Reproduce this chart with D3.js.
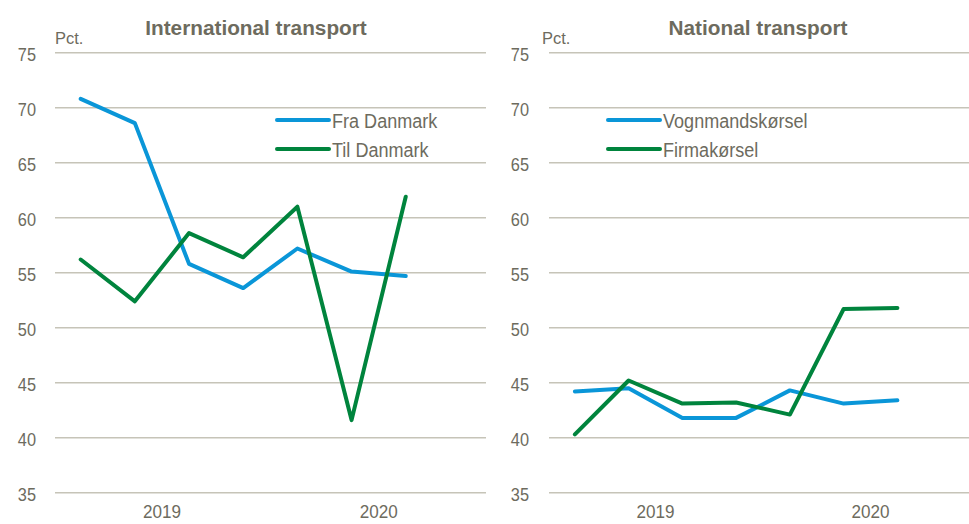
<!DOCTYPE html>
<html>
<head>
<meta charset="utf-8">
<script src="https://cdn.jsdelivr.net/npm/d3@7"></script>
<style>
  body { margin: 0; background: #fff; }
  svg text { font-family: "Liberation Sans", Arial, sans-serif; fill: #6d6b5e; }
</style>
</head>
<body>
<svg id="chart" width="969" height="524"></svg>
<script>
const quarters = ["2019K1", "2019K2", "2019K3", "2019K4", "2020K1", "2020K2", "2020K3", "2020K4"];
const years = ["2019", "2020"];
const yTicks = [35, 40, 45, 50, 55, 60, 65, 70, 75];

const fraDanmark = [70.8, 68.6, 55.8, 53.6, 57.2, 55.1, 54.7];
const tilDanmark = [56.2, 52.4, 58.6, 56.4, 61.0, 41.6, 61.9];
const vognmand = [44.2, 44.5, 41.8, 41.8, 44.3, 43.1, 43.4];
const firma = [40.3, 45.2, 43.1, 43.2, 42.1, 51.7, 51.8];

const blue = "#0a96d8";
const green = "#00843d";
const gridColor = "#c6c4b8";
const narrow = 0.86; // no Arial Narrow here, so squeeze the text sideways

const svg = d3.select("#chart");

const y = d3.scaleLinear().domain([35, 75]).range([492.7, 52.7]);

// place text with a horizontal squeeze around its anchor point
function squeeze(sel, fx, fy, k) {
  sel.attr("transform", (d, i) => {
    const tx = typeof fx === "function" ? fx(d, i) : fx;
    const ty = typeof fy === "function" ? fy(d, i) : fy;
    return `translate(${tx},${ty}) scale(${k},1)`;
  });
}

const panels = [
  {
    title: "International transport", titleX: 256,
    x0: 53.6, x1: 487, gridX0: 55, gridX1: 486, labelX: 36, pctX: 55,
    legendX: 277,
    series: [
      {name: "Fra Danmark", values: fraDanmark, color: blue},
      {name: "Til Danmark", values: tilDanmark, color: green}
    ]
  },
  {
    title: "National transport", titleX: 758,
    x0: 548, x1: 978, gridX0: 549, gridX1: 969, labelX: 529, pctX: 542,
    legendX: 608,
    series: [
      {name: "Vognmandskørsel", values: vognmand, color: blue},
      {name: "Firmakørsel", values: firma, color: green}
    ]
  }
];

panels.forEach(p => {
  const g = svg.append("g");
  const x = d3.scaleBand().domain(quarters).range([p.x0, p.x1]).padding(0);

  // gridlines
  g.selectAll(".grid")
    .data(yTicks)
    .enter()
    .append("line")
    .attr("x1", p.gridX0)
    .attr("x2", p.gridX1)
    .attr("y1", d => y(d))
    .attr("y2", d => y(d))
    .attr("stroke", gridColor)
    .attr("stroke-width", 1.5);

  // y tick labels
  g.selectAll(".ylab")
    .data(yTicks)
    .enter()
    .append("text")
    .attr("dy", "0.36em")
    .attr("text-anchor", "end")
    .style("font-size", "19px")
    .text(d => d)
    .call(squeeze, p.labelX, d => y(d) + 1, narrow);

  g.append("text")
    .style("font-size", "17px")
    .text("Pct.")
    .call(squeeze, p.pctX, 43.5, 0.97);

  g.append("text")
    .attr("text-anchor", "middle")
    .style("font-size", "21px")
    .style("font-weight", "bold")
    .text(p.title)
    .call(squeeze, p.titleX, 35, 0.99);

  // year labels centered over four quarters
  g.selectAll(".year")
    .data(years)
    .enter()
    .append("text")
    .attr("text-anchor", "middle")
    .style("font-size", "19px")
    .text(d => d)
    .call(squeeze, d => {
      const qs = quarters.filter(q => q.startsWith(d));
      return (x(qs[0]) + x(qs[qs.length - 1]) + x.bandwidth()) / 2;
    }, 518, 0.9);

  const line = d3.line()
    .x((d, i) => x(quarters[i]) + x.bandwidth() / 2)
    .y(d => y(d));

  p.series.forEach((s, k) => {
    g.append("path")
      .datum(s.values)
      .attr("fill", "none")
      .attr("stroke", s.color)
      .attr("stroke-width", 4)
      .attr("stroke-linecap", "round")
      .attr("stroke-linejoin", "round")
      .attr("d", line);

    const ly = 120 + k * 29;
    g.append("line")
      .attr("x1", p.legendX)
      .attr("x2", p.legendX + 52)
      .attr("y1", ly)
      .attr("y2", ly)
      .attr("stroke", s.color)
      .attr("stroke-width", 4)
      .attr("stroke-linecap", "round");
    g.append("text")
      .attr("dy", "0.36em")
      .style("font-size", "21px")
      .text(s.name)
      .call(squeeze, p.legendX + 55, ly, narrow);
  });
});
</script>
</body>
</html>
